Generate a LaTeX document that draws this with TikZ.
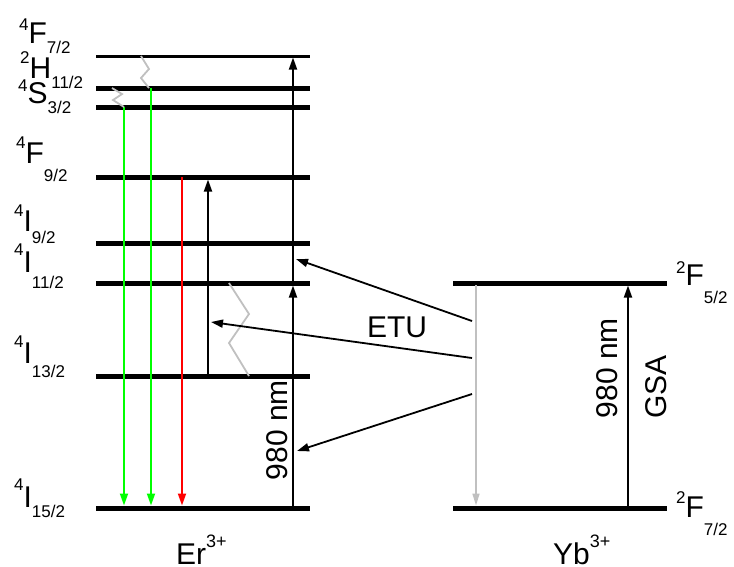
\documentclass[tikz,border=0pt]{standalone}
\usepackage{fontspec}
\setmainfont{Liberation Sans}
\usetikzlibrary{arrows.meta}
\definecolor{zgray}{RGB}{192,192,192}
\definecolor{lgreen}{RGB}{0,255,0}
\definecolor{lred}{RGB}{255,0,0}
\newcommand{\supsz}{\fontsize{17}{17}\selectfont}
\newcommand{\mainsz}{\fontsize{30}{30}\selectfont}
\newcommand{\lvltext}[5]{\raisebox{#4pt}{\supsz #1}{\mainsz #2}\raisebox{-#5pt}{\supsz #3}}
\begin{document}
\begin{tikzpicture}[x=1pt,y=-1pt,
  level/.style={line width=5pt},
  thinlevel/.style={line width=3pt},
  tr/.style={line width=1.8pt,-{Triangle[length=12pt,width=8pt]}},
  zig/.style={line width=1.8pt,draw=zgray},
  lab/.style={inner sep=0pt,anchor=base west},
  big/.style={font=\fontsize{30}{30}\selectfont,inner sep=0pt}]
\useasboundingbox (0,0) rectangle (734,566);
% Er levels
\coordinate (F72a) at (96,56);  \coordinate (F72b) at (310,56);
\coordinate (H112a) at (96,88); \coordinate (H112b) at (310,88);
\coordinate (S32a) at (96,107); \coordinate (S32b) at (310,107);
\coordinate (F92a) at (96,177); \coordinate (F92b) at (310,177);
\coordinate (I92a) at (96,243); \coordinate (I92b) at (310,243);
\coordinate (I112a) at (96,283); \coordinate (I112b) at (310,283);
\coordinate (I132a) at (96,376); \coordinate (I132b) at (310,376);
\coordinate (I152a) at (96,508); \coordinate (I152b) at (310,508);
% Yb levels
\coordinate (Y52a) at (453,283); \coordinate (Y52b) at (667,283);
\coordinate (Y72a) at (453,508); \coordinate (Y72b) at (667,508);

\draw[thinlevel] (F72a) -- (F72b);
\draw[level] (H112a) -- (H112b);
\draw[level] (S32a) -- (S32b);
\draw[level] (F92a) -- (F92b);
\draw[level] (I92a) -- (I92b);
\draw[level] (I112a) -- (I112b);
\draw[level] (I132a) -- (I132b);
\draw[level] (I152a) -- (I152b);
\draw[level] (Y52a) -- (Y52b);
\draw[level] (Y72a) -- (Y72b);

% emission arrows
\coordinate (g1s) at (124,107); \coordinate (g1e) at (124,505.5);
\coordinate (g2s) at (151,88);  \coordinate (g2e) at (151,505.5);
\coordinate (r1s) at (182,177); \coordinate (r1e) at (182,505.5);
\draw[tr,draw=lgreen,fill=lgreen] (g1s) -- (g1e);
\draw[tr,draw=lgreen,fill=lgreen] (g2s) -- (g2e);
\draw[tr,draw=lred,fill=lred] (r1s) -- (r1e);

% zigzags
\coordinate (z1a) at (141,56); \coordinate (z1b) at (149,69);
\coordinate (z1c) at (141,78); \coordinate (z1d) at (149,88);
\draw[zig] (z1a) -- (z1b) -- (z1c) -- (z1d);
\coordinate (z2a) at (112,88); \coordinate (z2b) at (122,94);
\coordinate (z2c) at (113,100); \coordinate (z2d) at (124,107);
\draw[zig] (z2a) -- (z2b) -- (z2c) -- (z2d);
\coordinate (z3a) at (229,283); \coordinate (z3b) at (249,314);
\coordinate (z3c) at (229,343); \coordinate (z3d) at (249,376);
\draw[zig] (z3a) -- (z3b) -- (z3c) -- (z3d);

% absorption arrows
\coordinate (a1s) at (208,376); \coordinate (a1e) at (208,179.5);
\draw[tr,fill=black] (a1s) -- (a1e);
\coordinate (a2s) at (293,508); \coordinate (a2e) at (293,285.5);
\draw[tr,fill=black] (a2s) -- (a2e);
\coordinate (a3s) at (293,283); \coordinate (a3e) at (293,57.5);
\draw[tr,fill=black] (a3s) -- (a3e);

% Yb arrows
\coordinate (ybs) at (476,285); \coordinate (ybe) at (476,505.5);
\draw[line width=1.6pt,draw=zgray,fill=zgray,-{Triangle[length=12pt,width=7pt]}] (ybs) -- (ybe);
\coordinate (gsas) at (628,508); \coordinate (gsae) at (628,285.5);
\draw[tr,fill=black] (gsas) -- (gsae);

% ETU arrows
\coordinate (e1s) at (472,321); \coordinate (e1e) at (296,259);
\coordinate (e2s) at (472,358); \coordinate (e2e) at (211,322);
\coordinate (e3s) at (472,394); \coordinate (e3e) at (297,451);
\draw[tr,fill=black] (e1s) -- (e1e);
\draw[tr,fill=black] (e2s) -- (e2e);
\draw[tr,fill=black] (e3s) -- (e3e);

% level labels
\node[lab] (lF72) at (19,43) {\lvltext{4}{F}{7/2}{13}{10}};
\node[lab] (lH112) at (20,78) {\lvltext{2}{H}{11/2}{15}{10}};
\node[lab] (lS32) at (18,103) {\lvltext{4}{S}{3/2}{12}{10}};
\node[lab] (lF92) at (16,163) {\lvltext{4}{F}{9/2}{15}{18}};
\node[lab] (lI92) at (14,231) {\lvltext{4}{I}{9/2}{15}{12}};
\node[lab] (lI112) at (14,272) {\lvltext{4}{I}{11/2}{17}{16}};
\node[lab] (lI132) at (14,363) {\lvltext{4}{I}{13/2}{16}{14}};
\node[lab] (lI152) at (14,507) {\lvltext{4}{I}{15/2}{17}{10}};
\node[lab] (lY52) at (676,285) {\lvltext{2}{F}{5/2}{12}{18}};
\node[lab] (lY72) at (676,517) {\lvltext{2}{F}{7/2}{14}{18}};

% other texts
\node[big,anchor=base] (etu) at (397,337) {ETU};
\node[big,anchor=base,rotate=90] (nm1) at (287,430) {980 nm};
\node[big,anchor=base,rotate=90] (nm2) at (617,368) {980 nm};
\node[big,anchor=base,rotate=90] (gsa) at (666,387) {GSA};
\node[big,anchor=base west] (er) at (176,564) {Er\raisebox{17pt}{\fontsize{18}{18}\selectfont 3+}};
\node[big,anchor=base west] (yb) at (553,564) {Yb\raisebox{17pt}{\fontsize{18}{18}\selectfont 3+}};
\end{tikzpicture}
\end{document}
